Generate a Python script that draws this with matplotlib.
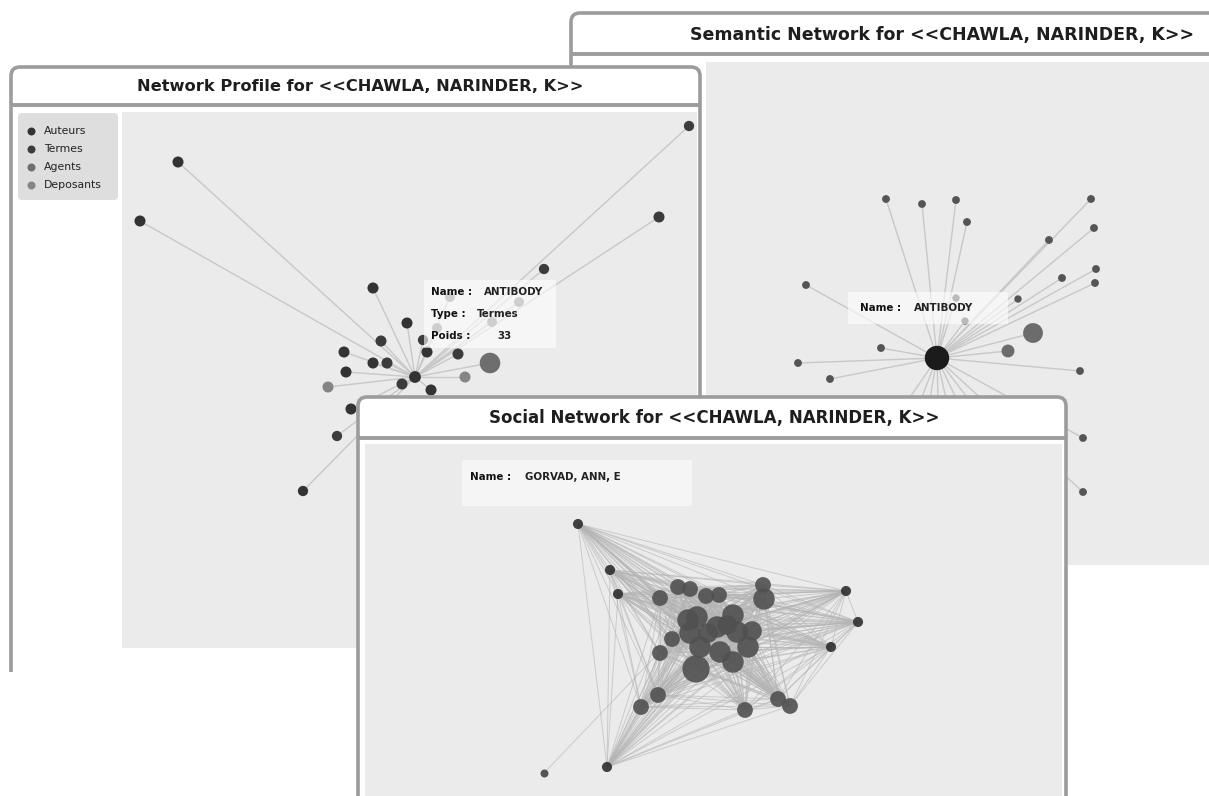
import matplotlib.pyplot as plt
from matplotlib.patches import FancyBboxPatch, Rectangle
from matplotlib.collections import LineCollection
from itertools import combinations

# === Canvas (pixel units) ===
W, H = 1209, 796
BORDER = "#9c9c9c"
PANEL_BG = "#ebebec"
EDGE = "#c8c8c8"

TITLE_SUFFIX = "for <<CHAWLA, NARINDER, K>>"

# === Network Profile data ===
profile_x = [415, 178, 140, 689, 659, 544, 373, 407, 381, 423, 427, 458, 490, 344,
             373, 387, 346, 402, 465, 328, 431, 351, 337, 303, 450, 519, 437, 492]
profile_y = [377, 162, 221, 126, 217, 269, 288, 323, 341, 340, 352, 354, 363, 352,
             363, 363, 372, 384, 377, 387, 390, 409, 436, 491, 297, 302, 328, 322]
profile_type = ["Auteurs", "Auteurs", "Auteurs", "Termes", "Termes", "Termes", "Auteurs",
                "Auteurs", "Termes", "Termes", "Auteurs", "Termes", "Agents", "Auteurs",
                "Auteurs", "Termes", "Auteurs", "Termes", "Deposants", "Deposants", "Auteurs",
                "Auteurs", "Termes", "Auteurs", "Deposants", "Deposants", "Deposants", "Deposants"]
profile_poids = [10, 8, 8, 6, 8, 6, 8, 8, 8, 6, 8, 8, 33, 8,
                 8, 8, 8, 8, 8, 8, 8, 8, 6, 6, 5, 5, 5, 5]

legend_labels = ["Auteurs", "Termes", "Agents", "Deposants"]
type_colors = {"Auteurs": "#333333", "Termes": "#3c3c3c", "Agents": "#6e6e6e", "Deposants": "#858585"}

# === Semantic Network data ===
sem_x = [937, 886, 922, 956, 967, 1091, 1094, 1049, 1096, 1062, 1095, 806, 1018, 956,
         965, 1033, 1008, 881, 798, 830, 1080, 1083, 1083,
         860, 890, 915, 940, 965, 990, 1015]
sem_y = [358, 199, 204, 200, 222, 199, 228, 240, 269, 278, 283, 285, 299, 298,
         321, 333, 351, 348, 363, 379, 371, 438, 492,
         470, 480, 485, 480, 485, 470, 460]
sem_poids = [40, 4, 4, 4, 4, 4, 4, 4, 4, 4, 4, 4, 3, 3,
             3, 30, 15, 4, 4, 4, 4, 4, 4,
             4, 4, 4, 4, 4, 4, 4]

# === Social Network data ===
soc_x = [578, 610, 618, 846, 858, 831, 607,
         660, 678, 690, 706, 719, 763, 764, 672, 660, 696, 658, 641, 745, 778, 790,
         688, 697, 690, 700, 717, 708, 733, 737, 752, 748, 720, 733, 727]
soc_y = [524, 570, 594, 591, 622, 647, 767,
         598, 587, 589, 596, 595, 585, 599, 639, 653, 669, 695, 707, 710, 699, 706,
         620, 617, 633, 647, 627, 633, 615, 632, 631, 647, 652, 662, 625]
soc_poids = [3, 3, 3, 3, 3, 3, 3,
             6, 6, 6, 6, 6, 6, 9, 6, 6, 12, 6, 6, 6, 6, 6,
             9, 9, 9, 9, 9, 8, 9, 9, 8, 9, 9, 9, 8]
leaf_x, leaf_y = 544, 773


def window_axes(x0, y0, x1, y1):
    ax = fig.add_axes([x0 / W, 1 - y1 / H, (x1 - x0) / W, (y1 - y0) / H])
    ax.set_xlim(x0, x1)
    ax.set_ylim(y1, y0)
    ax.axis("off")
    return ax


def draw_frame(ax, x0, y0, x1, y1, sep_y, plot_box, title, title_x, fs=12.2):
    ax.add_patch(FancyBboxPatch((x0, y0), x1 - x0, y1 - y0,
                                boxstyle="round,pad=0,rounding_size=9",
                                facecolor="white", edgecolor=BORDER, linewidth=2.6))
    ax.plot([x0, x1], [sep_y, sep_y], color=BORDER, linewidth=2.8, solid_capstyle="butt")
    px0, py0, px1, py1 = plot_box
    ax.add_patch(Rectangle((px0, py0), px1 - px0, py1 - py0, facecolor=PANEL_BG, edgecolor="none"))
    ax.text(title_x, (y0 + sep_y) / 2 + 1, title, ha="center", va="center",
            fontsize=fs, fontweight="bold", color="#1e1e1e")


def tooltip(ax, x, y, rows, step=22):
    for i, (lab, val, vx) in enumerate(rows):
        ax.text(x, y + i * step, lab, fontsize=7.4, fontweight="bold", va="center", color="#111111", zorder=5)
        ax.text(vx, y + i * step, val, fontsize=7.4, fontweight="bold", va="center", color="#222222", zorder=5)


def px_area(r):
    # radius in pixels -> scatter area in points^2 (dpi 100)
    return (2 * r * 0.72) ** 2


fig = plt.figure(figsize=(W / 100, H / 100), dpi=100)
fig.patch.set_facecolor("white")

# --- Semantic window (back) ---
ax_s = window_axes(560, 6, W, 600)
draw_frame(ax_s, 571, 13, 1240, 700, 54, (706, 62, 1240, 565),
           "Semantic Network " + TITLE_SUFFIX, 942, fs=12.5)
segs = [[(sem_x[0], sem_y[0]), (x, y)] for x, y in zip(sem_x[1:], sem_y[1:])]
ax_s.add_collection(LineCollection(segs, colors=EDGE, linewidths=1.0))
sem_r = [3 + 0.23 * p for p in sem_poids]
sem_col = ["#1b1b1b"] + ["#6c6c6c" if p >= 15 else "#555555" for p in sem_poids[1:]]
ax_s.scatter(sem_x, sem_y, s=[px_area(r) for r in sem_r], c=sem_col, linewidths=0, zorder=3)
ax_s.add_patch(Rectangle((848, 292), 160, 32, facecolor="white", alpha=0.6, edgecolor="none", zorder=4))
tooltip(ax_s, 860, 308, [("Name :", "ANTIBODY", 914)])

# --- Network Profile window (middle) ---
ax_p = window_axes(6, 60, 706, 672)
draw_frame(ax_p, 11, 67, 700, 800, 105, (122, 112, 697, 648),
           "Network Profile " + TITLE_SUFFIX, 360, fs=11.7)
segs = [[(profile_x[0], profile_y[0]), (x, y)] for x, y in zip(profile_x[1:], profile_y[1:])]
ax_p.add_collection(LineCollection(segs, colors=EDGE, linewidths=1.0))
prof_r = [4 + 0.19 * p for p in profile_poids]
ax_p.scatter(profile_x, profile_y, s=[px_area(r) for r in prof_r],
             c=[type_colors[t] for t in profile_type], linewidths=0, zorder=3)
ax_p.add_patch(Rectangle((424, 280), 132, 68, facecolor="white", alpha=0.6, edgecolor="none", zorder=4))
tooltip(ax_p, 431, 292, [("Name :", "ANTIBODY", 484), ("Type :", "Termes", 477), ("Poids :", "33", 497)])
# legend box
ax_p.add_patch(FancyBboxPatch((18, 113), 100, 87, boxstyle="round,pad=0,rounding_size=4",
                              facecolor="#dedede", edgecolor="none"))
for i, lab in enumerate(legend_labels):
    ax_p.scatter([31], [131 + i * 18], s=px_area(4), c=type_colors[lab], linewidths=0)
    ax_p.text(44, 131 + i * 18, lab, fontsize=7.8, va="center", color="#222222")

# --- Social window (front) ---
ax_c = window_axes(352, 390, 1074, H)
draw_frame(ax_c, 358, 397, 1066, 900, 438, (365, 444, 1062, 900),
           "Social Network " + TITLE_SUFFIX, 714, fs=12.0)
pts = list(zip(soc_x, soc_y))
segs = [[a, b] for a, b in combinations(pts, 2)]
segs.append([(leaf_x, leaf_y), pts[14]])
ax_c.add_collection(LineCollection(segs, colors="#b4b4b4", linewidths=0.7, alpha=0.6))
soc_r = [2.2 + 0.95 * p for p in soc_poids]
soc_col = ["#2e2e2e" if p <= 3 else "#505050" for p in soc_poids]
ax_c.scatter(soc_x, soc_y, s=[px_area(r) for r in soc_r], c=soc_col, alpha=0.9, linewidths=0, zorder=3)
ax_c.scatter([leaf_x], [leaf_y], s=px_area(4), c="#555555", linewidths=0, zorder=3)
ax_c.add_patch(Rectangle((462, 460), 230, 46, facecolor="white", alpha=0.5, edgecolor="none", zorder=4))
tooltip(ax_c, 470, 477, [("Name :", "GORVAD, ANN, E", 525)])

plt.savefig("out.png", dpi=100, facecolor="white")
